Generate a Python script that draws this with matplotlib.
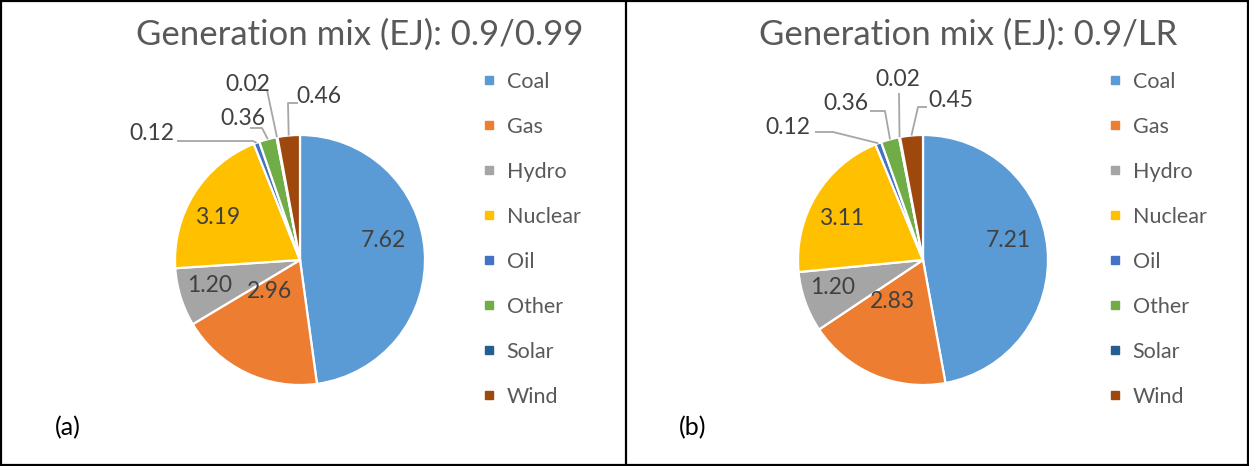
import numpy as np
import matplotlib.pyplot as plt
from matplotlib.lines import Line2D
from matplotlib.patches import Rectangle

plt.rcParams['font.family'] = ['Lato', 'DejaVu Sans']

# data
sources = ['Coal', 'Gas', 'Hydro', 'Nuclear', 'Oil', 'Other', 'Solar', 'Wind']
mix_a = [7.62, 2.96, 1.20, 3.19, 0.12, 0.36, 0.02, 0.46]
mix_b = [7.21, 2.83, 1.20, 3.11, 0.12, 0.36, 0.02, 0.45]
titles = ['Generation mix (EJ): 0.9/0.99', 'Generation mix (EJ): 0.9/LR']
tags = ['(a)', '(b)']

colors = ['#5B9BD5', '#ED7D31', '#A5A5A5', '#FFC000',
          '#4472C4', '#70AD47', '#255E91', '#9E480E']

W, H = 1249, 466

# label placement (pie radius units), Excel-like "best fit"
inside_a = {0: (0.664, 0.16), 1: (-0.24, -0.256), 2: (-0.72, -0.2), 3: (-0.656, 0.344)}
inside_b = {0: (0.68, 0.16), 1: (-0.248, -0.336), 2: (-0.72, -0.224), 3: (-0.648, 0.336)}
# idx: (text x, text y, line start x, line y, elbow x)
outside_a = {4: (-1.184, 1.016, -0.984, 0.952, -0.376),
             5: (-0.456, 1.136, -0.40, 1.056, -0.304),
             6: (-0.416, 1.408, -0.368, 1.36, -0.264),
             7: (0.152, 1.312, -0.016, 1.256, -0.096)}
outside_b = {4: (-1.08, 1.064, -0.864, 1.024, -0.72),
             5: (-0.616, 1.256, -0.424, 1.192, -0.304),
             6: (-0.20, 1.448, -0.192, 1.336, -0.192),
             7: (0.22, 1.28, 0.032, 1.224, -0.04)}

panels = [
    dict(values=mix_a, title=titles[0], tag=tags[0], cx=300, cy=260, tx=360, lx=483,
         tagx=68, inside=inside_a, outside=outside_a),
    dict(values=mix_b, title=titles[1], tag=tags[1], cx=923, cy=260, tx=968, lx=1109,
         tagx=693, inside=inside_b, outside=outside_b),
]

fig = plt.figure(figsize=(W / 100, H / 100), dpi=100)
R = 125

for p in panels:
    ax = fig.add_axes([(p['cx'] - R) / W, (H - p['cy'] - R) / H, 2 * R / W, 2 * R / H])
    wedges, _ = ax.pie(p['values'], colors=colors, startangle=90, counterclock=False,
                       radius=1, wedgeprops=dict(edgecolor='white', linewidth=1.6))
    ax.set_xlim(-1, 1)
    ax.set_ylim(-1, 1)
    ax.set_axis_off()

    for i, (x, y) in p['inside'].items():
        ax.text(x, y, f"{p['values'][i]:.2f}", ha='center', va='center',
                fontsize=16.5, color='#404040')

    for i, (tx, ty, sx, ly, ex) in p['outside'].items():
        w = wedges[i]
        mid = np.deg2rad((w.theta1 + w.theta2) / 2)
        px, py = np.cos(mid), np.sin(mid)
        ax.plot([sx, ex, px], [ly, ly, py], color='#A6A6A6', lw=1.3,
                clip_on=False, solid_capstyle='butt')
        ax.text(tx, ty, f"{p['values'][i]:.2f}", ha='center', va='center',
                fontsize=16.5, color='#404040', clip_on=False)

    fig.text(p['tx'] / W, 1 - 35 / H, p['title'], ha='center', va='center',
             fontsize=25, color='#595959')
    fig.text(p['tagx'] / W, 1 - 428 / H, p['tag'], ha='center', va='center',
             fontsize=18, color='black')

    handles = [Line2D([], [], marker='s', linestyle='none', markersize=6,
                      markerfacecolor=c, markeredgecolor=c) for c in colors]
    fig.legend(handles, sources, loc='upper left',
               bbox_to_anchor=(p['lx'] / W, 1 - 72 / H), frameon=False,
               fontsize=15.5, labelcolor='#595959', handlelength=0.6,
               handletextpad=0.5, labelspacing=1.16, borderpad=0, borderaxespad=0)

# table-style border
fig.add_artist(Rectangle((1 / W, 1 / H), (W - 2) / W, (H - 2) / H, transform=fig.transFigure,
                         fill=False, edgecolor='black', linewidth=1.6))
fig.add_artist(Line2D([626 / W, 626 / W], [0, 1], transform=fig.transFigure,
                      color='black', linewidth=1.6))

fig.savefig('out.png', dpi=100)
